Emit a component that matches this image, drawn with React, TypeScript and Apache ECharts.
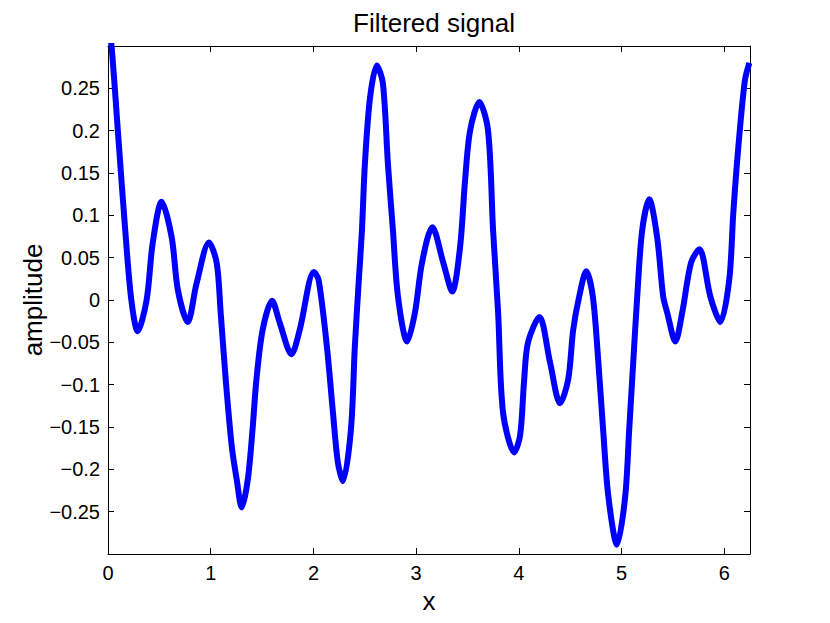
import React, { useEffect, useRef } from "react";
import * as echarts from "echarts";

const titleText = "Filtered signal";
const xName = "x";
const yName = "amplitude";

const xValues = [
  0, 0.035, 0.103, 0.168, 0.227, 0.289, 0.376, 0.435, 0.522, 0.62, 0.68, 0.776,
  0.863, 0.983, 1.058, 1.097, 1.146, 1.205, 1.253, 1.302, 1.361, 1.407, 1.445,
  1.506, 1.597, 1.672, 1.786, 1.867, 2.004, 2.05, 2.131, 2.19, 2.238, 2.287,
  2.365, 2.403, 2.442, 2.472, 2.501, 2.551, 2.617, 2.676, 2.725, 2.774, 2.823,
  2.912, 2.988, 3.057, 3.157, 3.264, 3.351, 3.427, 3.476, 3.525, 3.615, 3.7,
  3.749, 3.798, 3.846, 3.955, 4.012, 4.051, 4.089, 4.2, 4.304, 4.401, 4.48,
  4.529, 4.587, 4.656, 4.72, 4.774, 4.82, 4.871, 4.955, 5.035, 5.074, 5.113,
  5.152, 5.2, 5.269, 5.346, 5.405, 5.444, 5.523, 5.59, 5.676, 5.757, 5.864,
  5.961, 6.048, 6.087, 6.136, 6.2, 6.244,
];

const amplitude = [
  0.33, 0.299, 0.188, 0.082, 0.0, -0.037, 0.0, 0.067, 0.116, 0.074, 0.012, -0.026,
  0.02, 0.068, 0.044, -0.015, -0.094, -0.173, -0.212, -0.245, -0.212, -0.153, -0.094,
  -0.035, -0.001, -0.027, -0.064, -0.035, 0.033, 0.024, -0.055, -0.133, -0.192, -0.214,
  -0.153, -0.055, 0.024, 0.082, 0.161, 0.239, 0.277, 0.256, 0.161, 0.082, 0.004,
  -0.049, -0.015, 0.044, 0.086, 0.044, 0.01, 0.062, 0.141, 0.2, 0.234, 0.2,
  0.082, -0.015, -0.133, -0.18, -0.16, -0.095, -0.05, -0.02, -0.074, -0.122, -0.094,
  -0.035, 0.004, 0.034, 0.004, -0.074, -0.153, -0.232, -0.289, -0.232, -0.153, -0.074,
  0.004, 0.082, 0.119, 0.074, 0.004, -0.015, -0.049, -0.015, 0.044, 0.06, 0.004,
  -0.026, 0.024, 0.102, 0.18, 0.259, 0.28,
];

const xMin = 0;
const xMax = 6.25;
const xInterval = 1;
const yMin = -0.3;
const yMax = 0.3;
const yInterval = 0.05;

const FONT = "'Liberation Sans', Arial, Helvetica, sans-serif";

function fmtY(v: number): string {
  if (Math.abs(v) > 0.29) return "";
  const s = String(parseFloat(v.toFixed(2)));
  return s.replace("-", "\u2212");
}

function fmtX(v: number): string {
  if (Math.abs(v - Math.round(v)) > 1e-6) return "";
  return String(Math.round(v));
}

export default function App() {
  const ref = useRef<HTMLDivElement>(null);

  useEffect(() => {
    if (!ref.current) return;
    const chart = echarts.init(ref.current, undefined, { renderer: "svg" });
    const axisLine = { show: true, onZero: false, lineStyle: { color: "#000", width: 1 } };
    const tick = { show: true, inside: true, length: 6, lineStyle: { color: "#000", width: 1 } };
    chart.setOption({
      animation: false,
      backgroundColor: "#fff",
      title: {
        text: titleText,
        left: 429,
        top: 5,
        textAlign: "center",
        textStyle: { fontFamily: FONT, fontSize: 26, fontWeight: "normal", color: "#000" },
      },
      graphic: [
        {
          type: "text",
          x: 33,
          y: 300,
          rotation: Math.PI / 2,
          style: {
            text: yName,
            fontFamily: FONT,
            fontSize: 26,
            fill: "#000",
            textAlign: "center",
            textVerticalAlign: "middle",
          },
        },
      ],
      grid: { left: 108, right: 80, top: 46, bottom: 69, containLabel: false },
      xAxis: [
        {
          type: "value",
          min: xMin,
          max: xMax,
          interval: xInterval,
          position: "bottom",
          name: xName,
          nameLocation: "middle",
          nameGap: 32,
          nameTextStyle: { fontFamily: FONT, fontSize: 26, color: "#000" },
          axisLine,
          axisTick: tick,
          splitLine: { show: false },
          axisLabel: {
            formatter: fmtX,
            fontFamily: FONT,
            fontSize: 20,
            color: "#000",
            margin: 9,
            showMaxLabel: false,
          },
        },
        {
          type: "value",
          min: xMin,
          max: xMax,
          interval: xInterval,
          position: "top",
          axisLine,
          axisTick: tick,
          splitLine: { show: false },
          axisLabel: { show: false },
        },
      ],
      yAxis: [
        {
          type: "value",
          min: yMin,
          max: yMax,
          interval: yInterval,
          position: "left",
          axisLine,
          axisTick: tick,
          splitLine: { show: false },
          axisLabel: { formatter: fmtY, fontFamily: FONT, fontSize: 20, color: "#000", margin: 8 },
        },
        {
          type: "value",
          min: yMin,
          max: yMax,
          interval: yInterval,
          position: "right",
          axisLine,
          axisTick: tick,
          splitLine: { show: false },
          axisLabel: { show: false },
        },
      ],
      series: [
        {
          type: "line",
          xAxisIndex: 0,
          yAxisIndex: 0,
          data: xValues.map((x, i) => [x, amplitude[i]]),
          showSymbol: false,
          smooth: 0.3,
          clip: true,
          lineStyle: { color: "#0000ff", width: 6, join: "round" },
          itemStyle: { color: "#0000ff" },
        },
      ],
    });
    return () => chart.dispose();
  }, []);

  return (
    <div
      ref={ref}
      style={{ position: "fixed", left: 0, top: 0, width: 830, height: 623, background: "#fff" }}
    />
  );
}
